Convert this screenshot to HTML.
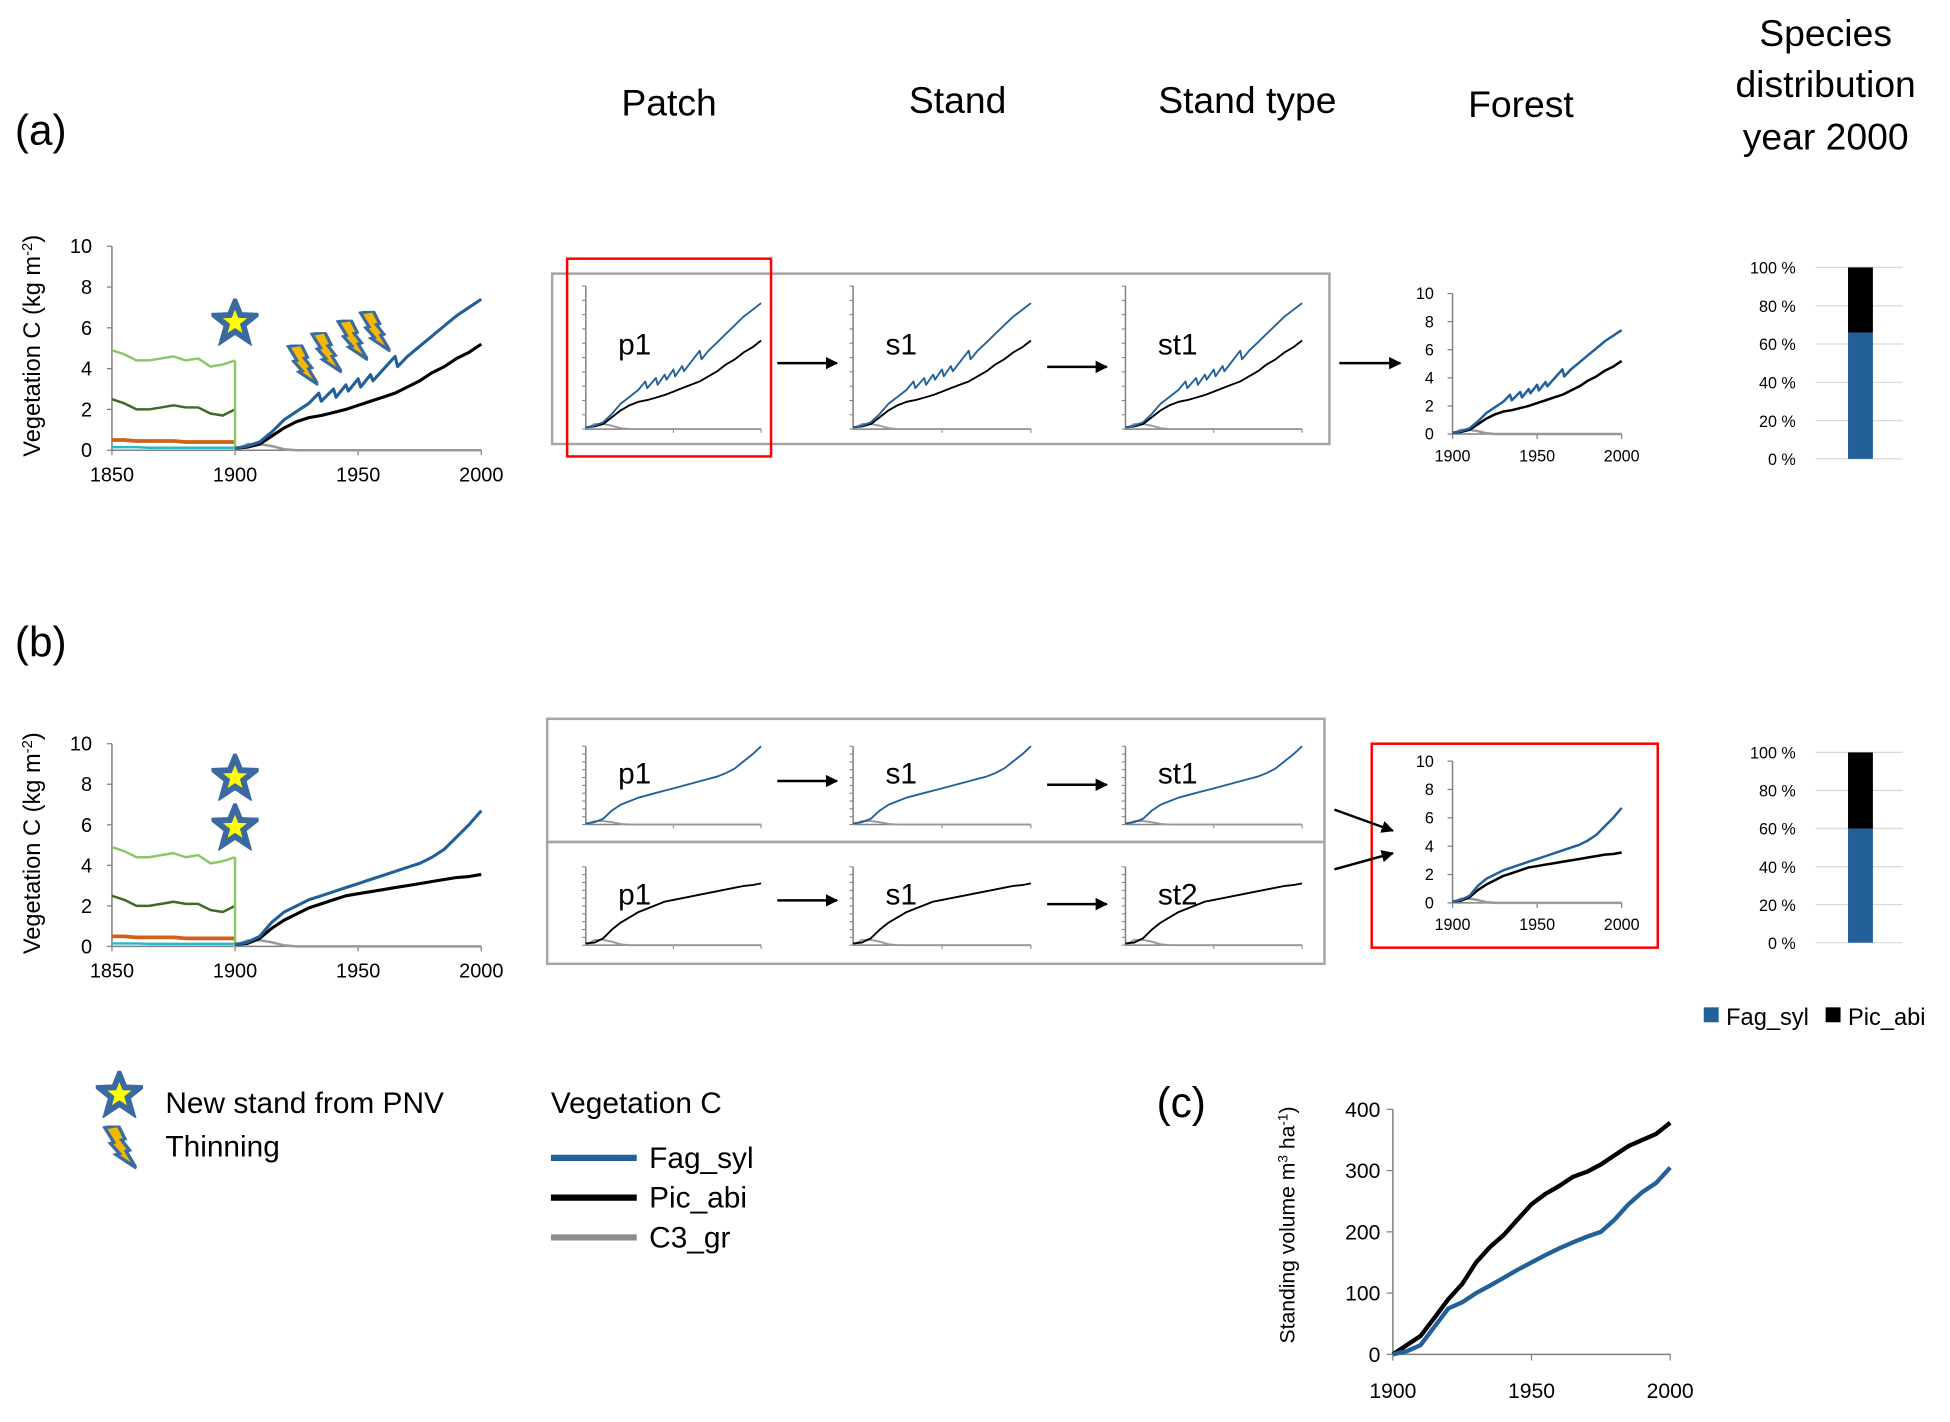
<!DOCTYPE html>
<html><head><meta charset="utf-8"><style>
html,body{margin:0;padding:0;background:#fff;}
svg{display:block;font-family:"Liberation Sans",sans-serif;}
</style></head><body>
<svg id="fig" width="1950" height="1422" viewBox="0 0 1568 1143.4" xmlns="http://www.w3.org/2000/svg">
<defs>
<marker id="ah" viewBox="0 0 10 10" refX="9" refY="5" markerWidth="5" markerHeight="5" orient="auto"><path d="M0,0 L10,5 L0,10 z" fill="#000"/></marker>
<symbol id="star" viewBox="-20 -20 40 40"><polygon points="0,-17 4.5,-6 17,-5.5 7,2.5 10.5,15 0,8 -10.5,15 -7,2.5 -17,-5.5 -4.5,-6" fill="#ffff00" stroke="#3b6aa0" stroke-width="5" stroke-linejoin="miter"/></symbol>
<symbol id="bolt" viewBox="0 0 30 40"><polygon points="2,2 14,0 20,12 17,13 24,22 21,23 30,38 12,26 15,25 7,16 10,15" fill="#f5b800" stroke="#3b6aa0" stroke-width="3"/></symbol>
</defs>
<g font-size="30" fill="#000">
<text x="12" y="116" font-size="34">(a)</text>
<text x="12" y="528" font-size="34">(b)</text>
<text x="930" y="898" font-size="34">(c)</text>
<text x="538" y="93" text-anchor="middle">Patch</text>
<text x="770" y="91" text-anchor="middle">Stand</text>
<text x="1003" y="91" text-anchor="middle">Stand type</text>
<text x="1223" y="94" text-anchor="middle">Forest</text>
<text x="1468" y="37" text-anchor="middle">Species</text>
<text x="1468" y="78" text-anchor="middle">distribution</text>
<text x="1468" y="120" text-anchor="middle">year 2000</text>
</g>
<g id="boxes">
<rect x="444" y="220" width="625" height="137" fill="none" stroke="#a6a6a6" stroke-width="2"/>
<rect x="456" y="208" width="164" height="159" fill="none" stroke="#f00" stroke-width="2"/>
<rect x="440" y="578" width="625" height="99" fill="none" stroke="#a6a6a6" stroke-width="2"/>
<rect x="440" y="677" width="625" height="98" fill="none" stroke="#a6a6a6" stroke-width="2"/>
<rect x="1103" y="598" width="230" height="164" fill="none" stroke="#f00" stroke-width="2"/>
</g>
<g stroke="#000" stroke-width="2" marker-end="url(#ah)">
<line x1="625" y1="292" x2="673" y2="292"/>
<line x1="842" y1="295" x2="890" y2="295"/>
<line x1="1077" y1="292" x2="1126" y2="292"/>
<line x1="625" y1="628" x2="673" y2="628"/>
<line x1="842" y1="631" x2="890" y2="631"/>
<line x1="625" y1="724" x2="673" y2="724"/>
<line x1="842" y1="727" x2="890" y2="727"/>
<line x1="1073" y1="651" x2="1120" y2="668"/>
<line x1="1073" y1="699" x2="1120" y2="686"/>
</g>
<use href="#star" x="170" y="240" width="38" height="38"/>
<use href="#star" x="170" y="606" width="38" height="38"/>
<use href="#star" x="170" y="646" width="38" height="38"/>
<use href="#bolt" x="230" y="277" width="26" height="34"/>
<use href="#bolt" x="249" y="267" width="26" height="34"/>
<use href="#bolt" x="270" y="257" width="26" height="34"/>
<use href="#bolt" x="288" y="250" width="26" height="34"/>
<g font-size="24">
<use href="#star" x="77" y="861" width="38" height="38"/>
<text x="133" y="895">New stand from PNV</text>
<use href="#bolt" x="82" y="905" width="28" height="36"/>
<text x="133" y="930">Thinning</text>
<text x="443" y="895">Vegetation C</text>
<line x1="443" y1="931" x2="512" y2="931" stroke="#23609a" stroke-width="5"/>
<text x="522" y="939">Fag_syl</text>
<line x1="443" y1="963" x2="512" y2="963" stroke="#000" stroke-width="5"/>
<text x="522" y="971">Pic_abi</text>
<line x1="443" y1="995" x2="512" y2="995" stroke="#8c8c8c" stroke-width="5"/>
<text x="522" y="1003">C3_gr</text>
</g>
<g font-size="19">
<rect x="1370" y="810" width="12" height="12" fill="#23609a"/>
<text x="1388" y="824">Fag_syl</text>
<rect x="1468" y="810" width="12" height="12" fill="#000"/>
<text x="1486" y="824">Pic_abi</text>
</g>
<g id="charts"></g>
</svg>
<script>
const NS = "http://www.w3.org/2000/svg";
const yearsPre = [1850,1855,1860,1865,1870,1875,1880,1885,1890,1895,1900];
const lightGreen = [4.9,4.7,4.4,4.4,4.5,4.6,4.4,4.5,4.1,4.2,4.4];
const darkGreen = [2.5,2.3,2.0,2.0,2.1,2.2,2.1,2.1,1.8,1.7,2.0];
const orangePre = [0.5,0.5,0.45,0.45,0.45,0.45,0.4,0.4,0.4,0.4,0.4];
const cyanPre = [0.15,0.15,0.15,0.12,0.12,0.12,0.12,0.12,0.12,0.12,0.12];
const yearsPost = [1900,1905,1910,1915,1920,1925,1930,1935,1940,1945,1950,1955,1960,1965,1970,1975,1980,1985,1990,1995,2000];
const yearsThin = [1900,1905,1910,1915,1920,1925,1930,1934,1935,1940,1941,1945,1946,1950,1951,1955,1956,1965,1966,1970,1975,1980,1985,1990,1995,2000];
const fagA = [0.1,0.2,0.4,0.9,1.5,1.9,2.3,2.8,2.4,3.0,2.6,3.2,2.9,3.5,3.1,3.7,3.4,4.6,4.1,4.6,5.1,5.6,6.1,6.6,7.0,7.4];
const picA = [0.1,0.15,0.3,0.7,1.1,1.4,1.6,1.7,1.85,2.0,2.2,2.4,2.6,2.8,3.1,3.4,3.8,4.1,4.5,4.8,5.2];
const fagB = [0.1,0.2,0.5,1.2,1.7,2.0,2.3,2.5,2.7,2.9,3.1,3.3,3.5,3.7,3.9,4.1,4.4,4.8,5.4,6.0,6.7];
const picB = [0.1,0.15,0.4,0.9,1.3,1.6,1.9,2.1,2.3,2.5,2.6,2.7,2.8,2.9,3.0,3.1,3.2,3.3,3.4,3.45,3.55];
const c3Post = [0.0,0.3,0.3,0.2,0.05,0,0,0,0,0,0,0,0,0,0,0,0,0,0,0,0];
const volFag = [0,5,15,45,75,85,100,112,125,138,150,162,173,183,192,200,220,245,265,280,305];
const volPic = [0,15,30,60,90,115,150,175,195,220,245,262,275,290,298,310,325,340,350,360,378];
const shareFagA = [66];
const shareFagB = [60];
const vegTicks = [0,2,4,6,8,10];
const pctTicks = [0,20,40,60,80,100];
const volTicks = [0,100,200,300,400];

const root = document.getElementById('charts');
function el(tag, attrs, parent){ const e=document.createElementNS(NS,tag); for(const k in attrs) e.setAttribute(k,attrs[k]); (parent||root).appendChild(e); return e; }
function scale(d0,d1,r0,r1){ return v => r0 + (v-d0)/(d1-d0)*(r1-r0); }
function line(xs, ys, sx, sy, color, w, name){
  const d = xs.map((x,i)=>(i?'L':'M')+sx(x).toFixed(1)+','+sy(ys[i]).toFixed(1)).join(' ');
  const p = el('path',{d:d,fill:'none',stroke:color,'stroke-width':w,'stroke-linejoin':'round'});
  
  
  return p;
}
function axes(x0,x1,y0,y1,name){
  const a = el('path',{d:`M${x0},${y1} L${x0},${y0} L${x1},${y0}`,fill:'none',stroke:'#808080','stroke-width':1.2});
  
  
}
function text(x,y,s,size,anchor,name){
  const t = el('text',{x:x,y:y,'font-size':size,'text-anchor':anchor||'middle'}); t.textContent=s;
  
  
  return t;
}
function bigChart(x0,x1,y0,y10,xmin,xmax,xt,fag,fagYears,pic,pre,name,fs,tickX,w){
  const sx=scale(xmin,xmax,x0,x1), sy=scale(0,10,y0,y10);
  axes(x0,x1,y0,y10,name+'-axes');
  vegTicks.forEach(v=>{ el('line',{x1:x0-4,x2:x0,y1:sy(v),y2:sy(v),stroke:'#808080'}); text(tickX,sy(v)+fs*0.35,String(v),fs,'end',name+'-ytick'); });
  xt.forEach(v=>{ el('line',{x1:sx(v),x2:sx(v),y1:y0,y2:y0+4,stroke:'#808080'}); text(sx(v),y0+fs+9,String(v),fs,'middle',name+'-xtick'); });
  if(pre){
    line(yearsPre,lightGreen,sx,sy,'#8cc86b',2,name+'-light-green');
    line(yearsPre,darkGreen,sx,sy,'#3d6b2a',2,name+'-dark-green');
    line(yearsPre,orangePre,sx,sy,'#d0601a',3,name+'-orange');
    line(yearsPre,cyanPre,sx,sy,'#2ab8c8',2,name+'-cyan');
    el('line',{x1:sx(1900),x2:sx(1900),y1:sy(4.4),y2:sy(0),stroke:'#8cc86b','stroke-width':2});
  }
  line(yearsPost,c3Post,sx,sy,'#999',2,name+'-c3');
  line(yearsPost,pic,sx,sy,'#000',w,name+'-pic');
  line(fagYears,fag,sx,sy,'#23609a',w,name+'-fag');
}
bigChart(90,387,362,198,1850,2000,[1850,1900,1950,2000],fagA,yearsThin,picA,true,'veg-a',16,74,2.5);
bigChart(90,387,761,598,1850,2000,[1850,1900,1950,2000],fagB,yearsPost,picB,true,'veg-b',16,74,2.5);
bigChart(1168,1304,349,236,1900,2000,[1900,1950,2000],fagA,yearsThin,picA,false,'forest-a',13,1153,2);
bigChart(1168,1304,726,612,1900,2000,[1900,1950,2000],fagB,yearsPost,picB,false,'forest-b',13,1153,2);
[[278,'veg-a'],[678,'veg-b']].forEach(([cy,n])=>{
  const t=el('text',{x:0,y:0,'font-size':19,'text-anchor':'middle',transform:`translate(32,${cy}) rotate(-90)`});
  t.innerHTML='Vegetation C (kg m<tspan baseline-shift="super" font-size="12">-2</tspan>)';
  
  
});
function mini(x0,x1,y0,y1,ymax,series,label,name){
  const sx=scale(1900,2000,x0,x1), sy=scale(0,ymax,y0,y1);
  axes(x0,x1,y0,y1,name+'-axes');
  for(let i=0;i<=10;i++){ const yy=y0+(y1-y0)*i/10; el('line',{x1:x0-3,x2:x0,y1:yy,y2:yy,stroke:'#808080','stroke-width':0.8}); }
  [1950,2000].forEach(v=>el('line',{x1:sx(v),x2:sx(v),y1:y0,y2:y0+3,stroke:'#808080','stroke-width':0.8}));
  line(yearsPost,c3Post,sx,sy,'#999',1.5,name+'-c3');
  series.forEach(([xs,d,c,n])=>line(xs,d,sx,sy,c,1.5,name+'-'+n));
  text(x0+26,y1+55*(y0-y1)/115,label,24,'start',name+'-label');
}
const aS=[[yearsPost,picA,'#000','pic'],[yearsThin,fagA,'#23609a','fag']];
mini(471,612,345,230,8.4,aS,'p1','mini-a-p1');
mini(686,829,345,230,8.4,aS,'s1','mini-a-s1');
mini(905,1047,345,230,8.4,aS,'st1','mini-a-st1');
mini(471,612,663,600,6.7,[[yearsPost,fagB,'#23609a','fag']],'p1','mini-b-p1');
mini(686,829,663,600,6.7,[[yearsPost,fagB,'#23609a','fag']],'s1','mini-b-s1');
mini(905,1047,663,600,6.7,[[yearsPost,fagB,'#23609a','fag']],'st1','mini-b-st1');
mini(471,612,760,697,4.5,[[yearsPost,picB,'#000','pic']],'p1','mini-b-p1-pic');
mini(686,829,760,697,4.5,[[yearsPost,picB,'#000','pic']],'s1','mini-b-s1-pic');
mini(905,1047,760,697,4.5,[[yearsPost,picB,'#000','pic']],'st2','mini-b-st2');
function bar(y0,y100,share,name){
  const sy=scale(0,100,y0,y100);
  pctTicks.forEach(v=>{ el('line',{x1:1460,x2:1530,y1:sy(v),y2:sy(v),stroke:'#d9d9d9'}); text(1444,sy(v)+5,v+' %',13,'end',name+'-tick'); });
  const b1=el('rect',{x:1486,y:sy(share[0]),width:20,height:sy(0)-sy(share[0]),fill:'#23609a'});
  
  
  const b2=el('rect',{x:1486,y:sy(100),width:20,height:sy(share[0])-sy(100),fill:'#000'});
  
  
}
bar(369,215,shareFagA,'bar-a');
bar(758,605,shareFagB,'bar-b');
(function(){
  const x0=1120,x1=1343,y0=1089,y1=892;
  const sx=scale(1900,2000,x0,x1), sy=scale(0,400,y0,y1);
  axes(x0,x1,y0,y1,'vol-axes');
  volTicks.forEach(v=>{ el('line',{x1:x0-5,x2:x0,y1:sy(v),y2:sy(v),stroke:'#808080'}); text(x0-10,sy(v)+6,String(v),17,'end','vol-ytick'); });
  [1900,1950,2000].forEach(v=>{ el('line',{x1:sx(v),x2:sx(v),y1:y0,y2:y0+5,stroke:'#808080'}); text(sx(v),y0+35,String(v),17,'middle','vol-xtick'); });
  line(yearsPost,volPic,sx,sy,'#000',3.5,'vol-pic');
  line(yearsPost,volFag,sx,sy,'#23609a',3.5,'vol-fag');
  const t=el('text',{x:0,y:0,'font-size':17,'text-anchor':'middle',transform:'translate(1041,985) rotate(-90)'});
  t.innerHTML='Standing volume m<tspan baseline-shift="super" font-size="11">3</tspan> ha<tspan baseline-shift="super" font-size="11">-1</tspan>)';
  
  
})();
</script>
</body></html>
